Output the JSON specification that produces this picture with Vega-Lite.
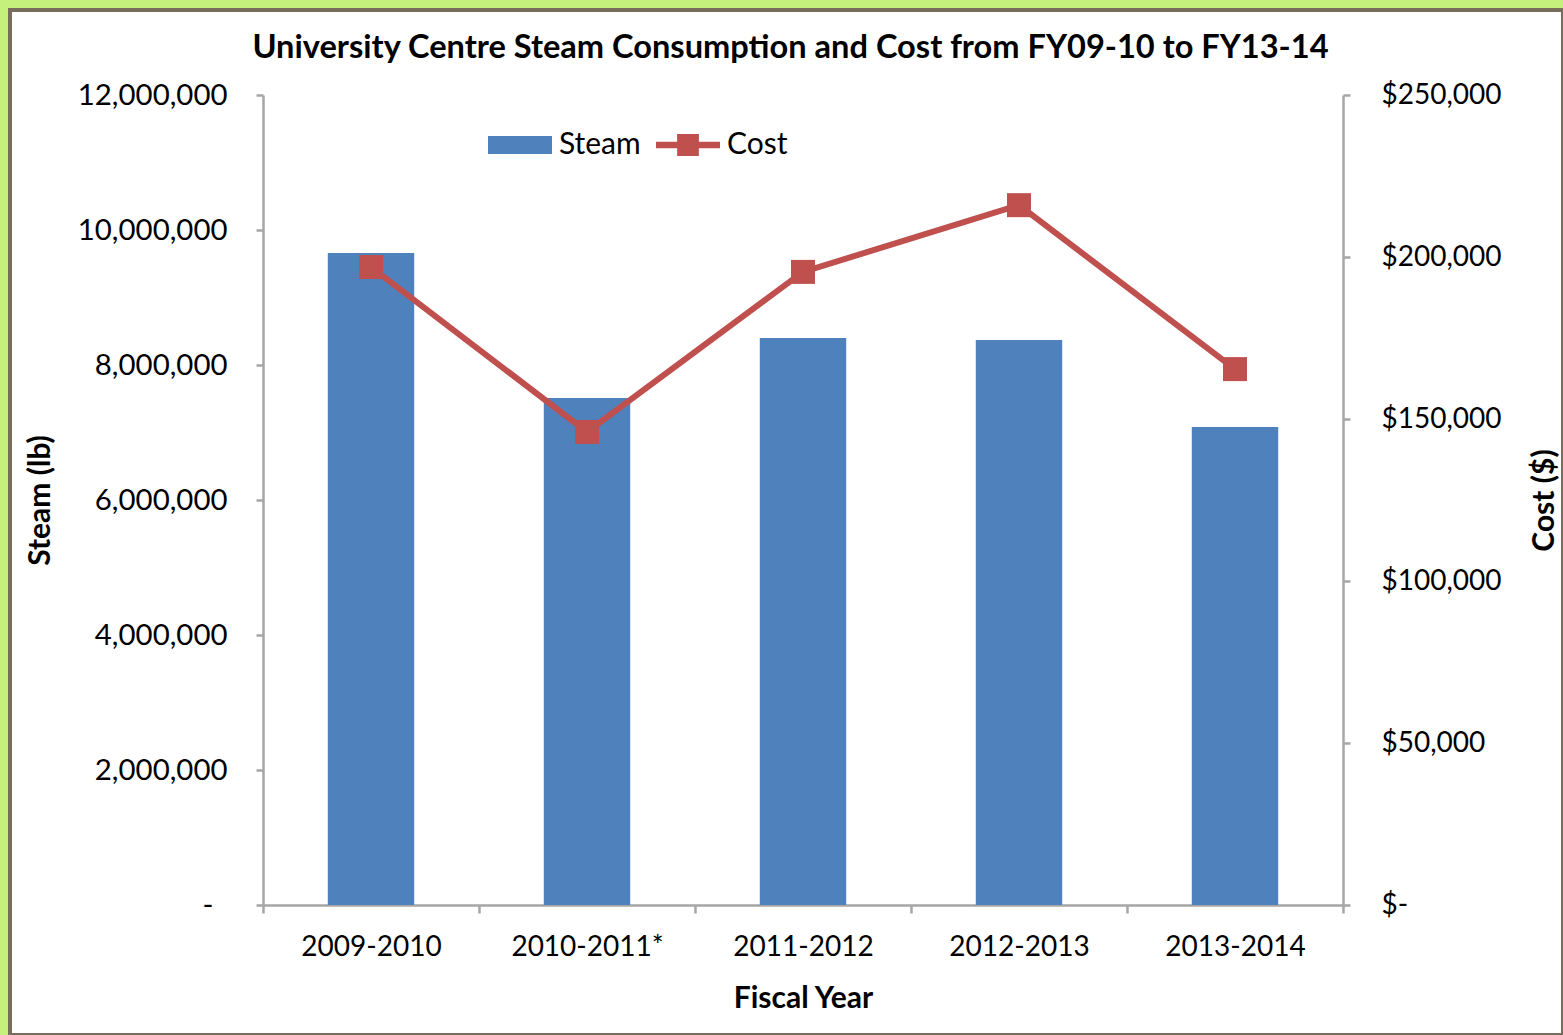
{
  "$schema": "https://vega.github.io/schema/vega-lite/v6.json",
  "width": 1553,
  "height": 1025,
  "autosize": {"type": "none"},
  "padding": {"left": 10, "top": 10, "right": 0, "bottom": 0},
  "background": "#c5f07b",
  "config": {
    "view": {"fill": "#ffffff", "stroke": "#786c5c", "strokeWidth": 4},
    "font": "Lato",
    "axis": {
      "domainColor": "#a6a6a6",
      "domainWidth": 2.5,
      "tickColor": "#a6a6a6",
      "tickWidth": 2.5,
      "grid": false,
      "labelFont": "Lato",
      "labelFontSize": 28,
      "labelColor": "#000000",
      "titleFont": "Lato",
      "titleFontSize": 30,
      "titleFontWeight": "bold",
      "titleColor": "#000000"
    }
  },
  "title": {
    "text": "University Centre Steam Consumption and Cost from FY09-10 to FY13-14",
    "font": "Lato",
    "fontSize": 32.6,
    "fontWeight": "bold",
    "color": "#000000",
    "anchor": "middle",
    "frame": "group",
    "offset": -55,
    "dx": 4
  },
  "data": {
    "values": [
      {"year": "2009-2010", "steam": 9660000, "cost": 196900},
      {"year": "2010-2011*", "steam": 7510000, "cost": 146000},
      {"year": "2011-2012", "steam": 8400000, "cost": 195400},
      {"year": "2012-2013", "steam": 8370000, "cost": 216000},
      {"year": "2013-2014", "steam": 7080000, "cost": 165400}
    ]
  },
  "encoding": {
    "x": {
      "field": "year",
      "type": "nominal",
      "sort": null,
      "scale": {"range": [253, 1333], "paddingInner": 0, "paddingOuter": 0},
      "axis": {
        "title": "Fiscal Year",
        "labelAngle": 0,
        "offset": -130,
        "tickBand": "extent",
        "tickSize": 8,
        "labelPadding": 20,
        "titlePadding": 22
      }
    }
  },
  "layer": [
    {
      "mark": {"type": "bar", "color": "#4f81bd", "width": {"band": 0.4}},
      "encoding": {
        "y": {
          "field": "steam",
          "type": "quantitative",
          "scale": {"domain": [0, 12000000], "range": [895, 85], "nice": false},
          "axis": {
            "title": "Steam (lb)",
            "orient": "left",
            "offset": -253,
            "values": [0, 2000000, 4000000, 6000000, 8000000, 10000000, 12000000],
            "labelExpr": "datum.value === 0 ? '-' : format(datum.value, ',')",
            "labelFontSize": 29.4,
            "tickSize": 7,
            "labelPadding": {"condition": {"test": "datum.value === 0", "value": 43}, "value": 29},
            "titlePadding": 22
          }
        }
      }
    },
    {
      "mark": {"type": "line", "strokeWidth": 6, "color": "#c0504d"},
      "encoding": {
        "y": {
          "field": "cost",
          "type": "quantitative",
          "scale": {"domain": [0, 250000], "range": [895, 85], "nice": false},
          "axis": {
            "title": "Cost ($)",
            "orient": "right",
            "offset": -220,
            "values": [0, 50000, 100000, 150000, 200000, 250000],
            "labelExpr": "datum.value === 0 ? '$-' : '$' + format(datum.value, ',')",
            "tickSize": 7,
            "labelPadding": 31,
            "titlePadding": 58,
            "titleAngle": 270
          }
        }
      }
    },
    {
      "mark": {"type": "point", "shape": "square", "filled": true, "opacity": 1, "size": 576, "color": "#c0504d"},
      "encoding": {
        "y": {"field": "cost", "type": "quantitative", "scale": {"domain": [0, 250000], "range": [895, 85], "nice": false}, "axis": null}
      }
    },
    {
      "mark": {"type": "point", "filled": true, "opacity": 0},
      "encoding": {
        "color": {
          "datum": "Cost",
          "type": "nominal",
          "scale": {"domain": ["Steam", "Cost"], "range": ["#4f81bd", "#c0504d"]},
          "legend": {
            "title": null,
            "orient": "none",
            "legendX": 478,
            "legendY": 103,
            "direction": "horizontal",
            "symbolSize": 4096,
            "symbolStrokeWidth": 0,
            "symbolOpacity": 1,
            "labelFont": "Lato",
            "labelFontSize": 30,
            "labelColor": "#000000",
            "labelOffset": 7,
            "columnPadding": 15
          }
        },
        "shape": {
          "datum": "Cost",
          "type": "nominal",
          "scale": {
            "domain": ["Steam", "Cost"],
            "range": [
              "M-1,-0.28H1V0.28H-1Z",
              "M-1,-0.1H-0.34V-0.34H0.34V-0.1H1V0.1H0.34V0.34H-0.34V0.1H-1Z"
            ]
          },
          "legend": {
            "title": null,
            "orient": "none",
            "legendX": 478,
            "legendY": 103,
            "direction": "horizontal",
            "symbolSize": 4096,
            "symbolStrokeWidth": 0,
            "symbolOpacity": 1,
            "labelFont": "Lato",
            "labelFontSize": 30,
            "labelColor": "#000000",
            "labelOffset": 7,
            "columnPadding": 15
          }
        }
      }
    }
  ],
  "resolve": {"scale": {"y": "independent"}}
}
